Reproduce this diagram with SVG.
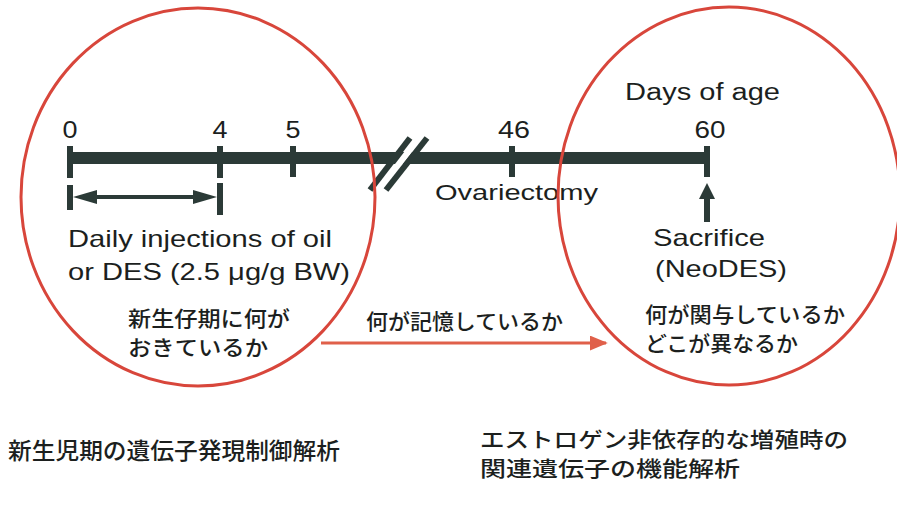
<svg xmlns="http://www.w3.org/2000/svg" width="897" height="505" viewBox="0 0 897 505">
<style>
.lat{font-family:"Liberation Sans",Arial,sans-serif;fill:#1c1f1e;}
.cjk{font-family:"Noto Sans CJK JP","Noto Sans CJK SC",sans-serif;fill:#1c1f1e;font-weight:500;}
.dark{fill:#2b3a37;}
.tick{stroke:#2b3a37;stroke-width:6;}
.ring{fill:none;stroke:#d8463b;stroke-width:3;}
</style>
<defs>
<marker id="redhead" viewBox="0 0 10 10" refX="9" refY="5" markerWidth="6" markerHeight="5" orient="auto" markerUnits="strokeWidth" preserveAspectRatio="none">
<path d="M0,0 L10,5 L0,10 z" fill="#e0604a"/>
</marker>
</defs>
<rect width="897" height="505" fill="#ffffff"/>

<g id="timeline">
<rect class="dark" x="67" y="152" width="643" height="12"/>
<line class="tick" x1="70" y1="146" x2="70" y2="178"/>
<line class="tick" x1="220" y1="146" x2="220" y2="178"/>
<line class="tick" x1="293" y1="146" x2="293" y2="177"/>
<line class="tick" x1="512" y1="146" x2="512" y2="177"/>
<line class="tick" x1="707" y1="146" x2="707" y2="177"/>
<polygon points="375,190 415,138 423,138 383,190" fill="#ffffff"/>
<line class="tick" x1="370" y1="190" x2="410" y2="138" stroke-width="5"/>
<line class="tick" x1="386" y1="190" x2="427" y2="138" stroke-width="5"/>
<text class="lat" x="70" y="138" font-size="23" text-anchor="middle" textLength="15" lengthAdjust="spacingAndGlyphs">0</text>
<text class="lat" x="220" y="138" font-size="23" text-anchor="middle" textLength="15" lengthAdjust="spacingAndGlyphs">4</text>
<text class="lat" x="293" y="138" font-size="23" text-anchor="middle" textLength="15" lengthAdjust="spacingAndGlyphs">5</text>
<text class="lat" x="514" y="138" font-size="23" text-anchor="middle" textLength="32" lengthAdjust="spacingAndGlyphs">46</text>
<text class="lat" x="710" y="138" font-size="23" text-anchor="middle" textLength="31" lengthAdjust="spacingAndGlyphs">60</text>
<text class="lat" x="625" y="100" font-size="23" textLength="155" lengthAdjust="spacingAndGlyphs">Days of age</text>
</g>

<g id="injection-period">
<line class="tick" x1="70" y1="185" x2="70" y2="210"/>
<line class="tick" x1="220" y1="183" x2="220" y2="215"/>
<line x1="90" y1="197" x2="200" y2="197" stroke="#2b3a37" stroke-width="4"/>
<polygon class="dark" points="73,197 97,190 97,204"/>
<polygon class="dark" points="217,197 193,190 193,204"/>
<text class="lat" x="68" y="247" font-size="24" textLength="264" lengthAdjust="spacingAndGlyphs">Daily injections of oil</text>
<text class="lat" x="68" y="280" font-size="24" textLength="282" lengthAdjust="spacingAndGlyphs">or DES (2.5 μg/g BW)</text>
</g>

<g id="neonatal">
<text class="cjk" x="128" y="326" font-size="21" textLength="162" lengthAdjust="spacingAndGlyphs">新生仔期に何が</text>
<text class="cjk" x="128" y="355" font-size="21" textLength="140" lengthAdjust="spacingAndGlyphs">おきているか</text>
</g>

<g id="ovariectomy">
<text class="lat" x="435" y="200" font-size="22" textLength="163" lengthAdjust="spacingAndGlyphs">Ovariectomy</text>
</g>

<g id="sacrifice">
<rect class="dark" x="704" y="196" width="6" height="26"/>
<polygon class="dark" points="707,183 699,199 715,199"/>
<text class="lat" x="653" y="246" font-size="24" textLength="112" lengthAdjust="spacingAndGlyphs">Sacrifice</text>
<text class="lat" x="655" y="277" font-size="24" textLength="132" lengthAdjust="spacingAndGlyphs">(NeoDES)</text>
</g>

<g id="memory">
<text class="cjk" x="366" y="329" font-size="21" textLength="197" lengthAdjust="spacingAndGlyphs">何が記憶しているか</text>
</g>

<g id="adult">
<text class="cjk" x="645" y="322" font-size="21" textLength="200" lengthAdjust="spacingAndGlyphs">何が関与しているか</text>
<text class="cjk" x="645" y="351" font-size="21" textLength="153" lengthAdjust="spacingAndGlyphs">どこが異なるか</text>
</g>

<g id="connectors">
<line x1="321" y1="343" x2="606" y2="343" stroke="#e0604a" stroke-width="3" marker-end="url(#redhead)"/>
</g>

<g id="circle-left">
<ellipse class="ring" cx="198" cy="197" rx="177" ry="189"/>
</g>
<g id="circle-right">
<ellipse class="ring" cx="729" cy="196" rx="171" ry="189"/>
</g>

<g id="label-left">
<text class="cjk" x="8" y="459" font-size="23" textLength="332" lengthAdjust="spacingAndGlyphs">新生児期の遺伝子発現制御解析</text>
</g>
<g id="label-right">
<text class="cjk" x="480" y="447" font-size="21" textLength="368" lengthAdjust="spacingAndGlyphs">エストロゲン非依存的な増殖時の</text>
<text class="cjk" x="480" y="476" font-size="21" textLength="260" lengthAdjust="spacingAndGlyphs">関連遺伝子の機能解析</text>
</g>
</svg>
